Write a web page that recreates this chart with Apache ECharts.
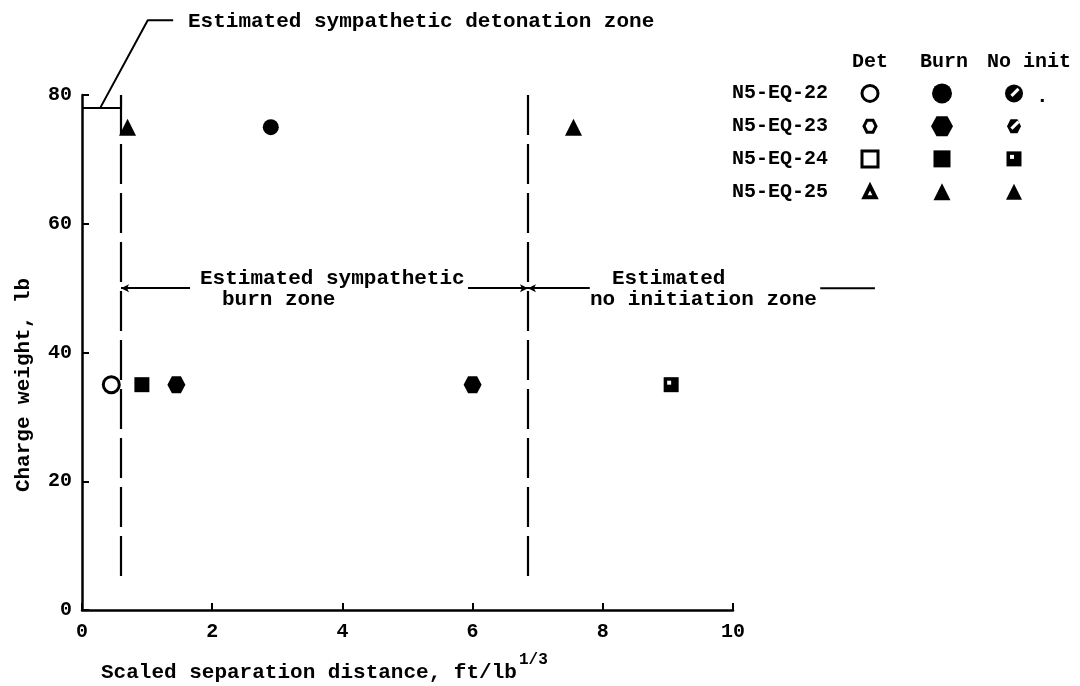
<!DOCTYPE html>
<html>
<head>
<meta charset="utf-8">
<script src="https://cdn.jsdelivr.net/npm/echarts@6/dist/echarts.min.js"></script>
<style>
  html, body { margin: 0; padding: 0; background: #fff; }
  #chart { width: 1080px; height: 686px; }
</style>
</head>
<body>
<div id="chart"></div>
<script>
  // legend rows / columns
  const tests = ['N5-EQ-22', 'N5-EQ-23', 'N5-EQ-24', 'N5-EQ-25']
  const outcomes = ['Det', 'Burn', 'No init']

  // observed shots
  const shotX = [0.7, 2.9, 7.55, 0.45, 0.92, 1.45, 6.0, 9.05]
  const shotY = [75, 75, 75, 35, 35, 35, 35, 35]
  const shotTest = ['N5-EQ-25', 'N5-EQ-22', 'N5-EQ-25', 'N5-EQ-22', 'N5-EQ-24', 'N5-EQ-23', 'N5-EQ-23', 'N5-EQ-24']
  const shotResult = ['Burn', 'Burn', 'No init', 'Det', 'Burn', 'Burn', 'Burn', 'No init']

  // axes
  const xMin = 0, xMax = 10, xStep = 2
  const yMin = 0, yMax = 80, yStep = 20

  // estimated zone boundaries
  const burnLimit = 0.6
  const noInitLimit = 6.85
  const burnLineY = [4.5, 80]
  const noInitLineY = [4, 80]
  const detZoneY = 78
  const leaderX = [0.28, 1.01, 1.4]
  const leaderY = [78, 91.6, 91.6]
  const zoneArrowY = 50
  const zoneArrowSegs = [[burnLimit, 1.66], [5.93, noInitLimit], [noInitLimit, 7.8]]
  const zoneTailX = [11.34, 12.18]

  const FONT = 'Liberation Mono'
  const hexagon = 'path://M4,0 L12,0 L16,7 L12,14 L4,14 L0,7 Z'
  const symbolByTest = { 'N5-EQ-22': 'circle', 'N5-EQ-23': hexagon, 'N5-EQ-24': 'rect', 'N5-EQ-25': 'triangle' }
  const sizeByTest = { 'N5-EQ-22': 16, 'N5-EQ-23': [18, 17], 'N5-EQ-24': 15, 'N5-EQ-25': 17 }
  const legendSize = {
    'N5-EQ-22': { Det: 16, Burn: 20, 'No init': 18 },
    'N5-EQ-23': { Det: 12, Burn: [22, 20], 'No init': 14 },
    'N5-EQ-24': { Det: 16, Burn: 17, 'No init': 15 },
    'N5-EQ-25': { Det: 11, Burn: 17, 'No init': 16 },
  }
  const styleByResult = {
    Det: { color: '#fff', borderColor: '#000', borderWidth: 3, opacity: 1 },
    Burn: { color: '#000', opacity: 1 },
    'No init': { color: '#000', opacity: 1 },
  }
  const detTriangle = { color: '#fff', borderColor: '#000', borderWidth: 4, opacity: 1 }

  // little white mark inside the "no init" symbols
  function noInitMark(test, big) {
    if (test === 'N5-EQ-24') return { symbol: 'rect', symbolSize: 4, symbolOffset: [-2, -2] }
    if (test === 'N5-EQ-25') return null
    return { symbol: 'rect', symbolSize: big ? [3, 10] : [3, 8], symbolRotate: -45, symbolOffset: [1, -1] }
  }
  const styleFor = (test, result) => (test === 'N5-EQ-25' && result === 'Det') ? detTriangle : styleByResult[result]

  const chart = echarts.init(document.getElementById('chart'))

  const shots = shotX.map((x, i) => ({
    value: [x, shotY[i]],
    symbol: symbolByTest[shotTest[i]],
    symbolSize: sizeByTest[shotTest[i]],
    itemStyle: styleFor(shotTest[i], shotResult[i]),
  }))
  const shotMarks = []
  shotX.forEach((x, i) => {
    if (shotResult[i] !== 'No init') return
    const m = noInitMark(shotTest[i], false)
    if (m) shotMarks.push({ value: [x, shotY[i]], ...m })
  })

  const legendItems = []
  const legendMarks = []
  tests.forEach(t => {
    outcomes.forEach(o => {
      legendItems.push({ value: [o, t], symbol: symbolByTest[t], symbolSize: legendSize[t][o], itemStyle: styleFor(t, o) })
      if (o === 'No init') {
        const m = noInitMark(t, true)
        if (m) legendMarks.push({ value: [o, t], ...m })
      }
    })
  })

  const plainLine = { color: '#000', width: 2, type: 'solid' }
  const seg = (a, b) => [{ coord: [a, zoneArrowY] }, { coord: [b, zoneArrowY] }]
  const annotationSeries = [
    { type: 'line', data: [], clip: false, silent: true, animation: false,
      markLine: { silent: true, animation: false, symbol: ['none', 'none'], label: { show: false },
        lineStyle: { color: '#000', width: 2.2, type: [40, 9] },
        data: [
          [{ coord: [burnLimit, burnLineY[1]] }, { coord: [burnLimit, burnLineY[0]] }],
          [{ coord: [noInitLimit, noInitLineY[1]] }, { coord: [noInitLimit, noInitLineY[0]] }],
        ] } },
    { type: 'line', data: [], clip: false, silent: true, animation: false,
      markLine: { silent: true, animation: false, symbol: ['arrow', 'none'], symbolSize: [6, 8], label: { show: false },
        lineStyle: plainLine,
        data: [
          seg(zoneArrowSegs[0][0], zoneArrowSegs[0][1]),
          seg(zoneArrowSegs[1][1], zoneArrowSegs[1][0]),
          seg(zoneArrowSegs[2][0], zoneArrowSegs[2][1]),
        ] } },
    { type: 'line', data: [[xMin, detZoneY], [burnLimit, detZoneY]], clip: false, silent: true, animation: false,
      showSymbol: false, lineStyle: plainLine },
    { type: 'line', data: [[burnLimit, detZoneY], [burnLimit, yMax]], clip: false, silent: true, animation: false,
      showSymbol: false, lineStyle: plainLine },
    { type: 'line', data: leaderX.map((x, i) => [x, leaderY[i]]), clip: false, silent: true, animation: false,
      showSymbol: false, lineStyle: plainLine },
  ]

  const txt = { fontFamily: FONT, fontWeight: 'bold', fontSize: 21, fill: '#000' }
  const t = (text, left, top) => ({ type: 'text', left, top, silent: true, style: { text, ...txt } })
  const axisFont = { color: '#000', fontFamily: FONT, fontWeight: 'bold', fontSize: 20 }

  const options = {
    backgroundColor: '#fff',
    animation: false,
    grid: [
      { left: 82, top: 95, width: 651, height: 515 },
      { left: 834, top: 77, width: 216, height: 131 },
    ],
    xAxis: [
      {
        type: 'value', min: xMin, max: xMax, interval: xStep, gridIndex: 0,
        axisLine: { lineStyle: { color: '#000', width: 2.5 } },
        axisTick: { inside: true, length: 7, lineStyle: { color: '#000', width: 2 } },
        axisLabel: { ...axisFont, margin: 12 },
        splitLine: { show: false },
      },
      {
        type: 'category', data: outcomes, gridIndex: 1, position: 'top',
        axisLine: { show: false }, axisTick: { show: false },
        axisLabel: {
          ...axisFont, interval: 0, margin: 5,
          formatter: v => v === 'No init' ? `{r|${v}}` : v === 'Burn' ? `{b|${v}}` : v,
          rich: { r: { ...axisFont, padding: [0, 0, 0, 30] }, b: { ...axisFont, padding: [0, 0, 0, 4] } },
        },
      },
    ],
    yAxis: [
      {
        type: 'value', min: yMin, max: yMax, interval: yStep, gridIndex: 0,
        axisLine: { show: true, lineStyle: { color: '#000', width: 2.5 } },
        axisTick: { show: true, inside: true, length: 7, lineStyle: { color: '#000', width: 2 } },
        axisLabel: { ...axisFont, margin: 10 },
        splitLine: { show: false },
      },
      {
        type: 'category', data: tests, gridIndex: 1, inverse: true,
        axisLine: { show: false }, axisTick: { show: false },
        axisLabel: { ...axisFont, interval: 0, margin: 6 },
      },
    ],
    series: [
      ...annotationSeries,
      { type: 'scatter', data: shots, z: 5, silent: true },
      { type: 'scatter', data: shotMarks, z: 6, silent: true, itemStyle: { color: '#fff', opacity: 1 } },
      { type: 'scatter', data: legendItems, xAxisIndex: 1, yAxisIndex: 1, z: 5, silent: true },
      { type: 'scatter', data: legendMarks, xAxisIndex: 1, yAxisIndex: 1, z: 6, silent: true, itemStyle: { color: '#fff', opacity: 1 } },
    ],
    graphic: [
      t('Estimated sympathetic detonation zone', 188, 11),
      t('Estimated sympathetic', 200, 268),
      t('burn zone', 222, 289),
      t('Estimated', 612, 268),
      t('no initiation zone', 590, 289),
      t('.', 1036, 86),
      t('Scaled separation distance, ft/lb', 101, 662),
      { type: 'text', left: 519, top: 652, silent: true, style: { text: '1/3', ...txt, fontSize: 16 } },
      { type: 'text', x: 24, y: 385, rotation: Math.PI / 2, silent: true,
        style: { text: 'Charge weight, lb', ...txt, align: 'center', verticalAlign: 'middle', textAlign: 'center', textVerticalAlign: 'middle' } },
    ],
  }
  chart.setOption(options)

  // the short rule after "Estimated" lies right of the axis range, so place it via the axis scale
  const p0 = chart.convertToPixel({ gridIndex: 0 }, [zoneTailX[0], zoneArrowY])
  const p1 = chart.convertToPixel({ gridIndex: 0 }, [zoneTailX[1], zoneArrowY])
  chart.setOption({
    graphic: [{ id: 'tail', type: 'line', silent: true, shape: { x1: p0[0], y1: p0[1], x2: p1[0], y2: p1[1] }, style: { stroke: '#000', lineWidth: 2 } }],
  })
</script>
</body>
</html>
